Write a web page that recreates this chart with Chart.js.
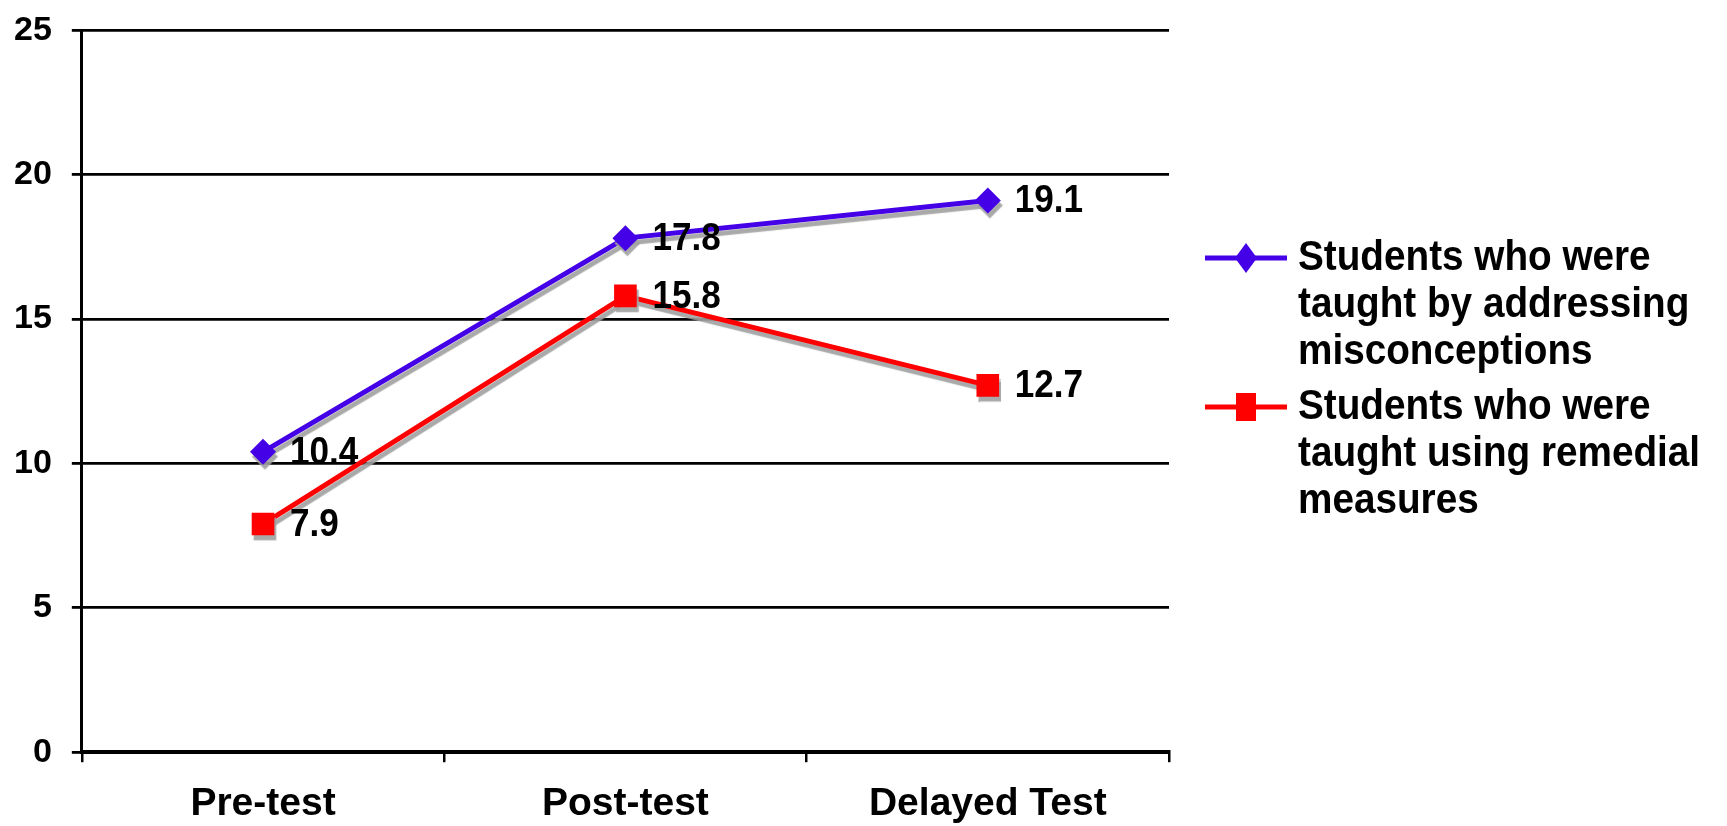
<!DOCTYPE html>
<html>
<head>
<meta charset="utf-8">
<script src="https://cdn.jsdelivr.net/npm/chart.js@4"></script>
<style>
  html, body { margin: 0; padding: 0; background: #fff; }
  #wrap { position: relative; width: 1727px; height: 826px; }
</style>
</head>
<body>
<div id="wrap"><canvas id="chart"></canvas></div>
<script>
// данные графика
const categories = ['Pre-test', 'Post-test', 'Delayed Test'];
const misconceptionScores = [10.4, 17.8, 19.1];
const remedialScores = [7.9, 15.8, 12.7];
const seriesNames = [
    ['Students who were', 'taught by addressing', 'misconceptions'],
    ['Students who were', 'taught using remedial', 'measures']
];
const yTicks = [0, 5, 10, 15, 20, 25];

const FONT = '"Liberation Sans", Arial, sans-serif';
const BLUE = '#4400E6';
const RED = '#FF0000';

// узкий жирный текст (в оригинале шрифт чуть сжат по ширине)
function narrowText(ctx, text, x, y, size) {
    const k = 0.9;
    ctx.save();
    ctx.font = 'bold ' + size + 'px ' + FONT;
    ctx.textAlign = 'left';
    ctx.textBaseline = 'middle';
    ctx.translate(x, y);
    ctx.scale(k, 1);
    ctx.fillText(text, 0, 0);
    ctx.restore();
}

// тень под линиями, как в оригинале
const shadowPlugin = {
    id: 'lineShadow',
    beforeDatasetsDraw(chart) {
        const ctx = chart.ctx;
        ctx.save();
        ctx.shadowColor = 'rgba(160,160,160,0.9)';
        ctx.shadowOffsetX = 2;
        ctx.shadowOffsetY = 5;
        ctx.shadowBlur = 1;
    },
    afterDatasetsDraw(chart) {
        chart.ctx.restore();
    }
};

// подписи значений справа от точек
const valueLabels = {
    id: 'valueLabels',
    afterDatasetsDraw(chart) {
        const ctx = chart.ctx;
        ctx.fillStyle = '#000';
        chart.data.datasets.forEach((ds, i) => {
            chart.getDatasetMeta(i).data.forEach((pt, j) => {
                narrowText(ctx, ds.data[j].toFixed(1), pt.x + 27, pt.y + 1, 39);
            });
        });
    }
};

// легенда справа с переносом строк
const sideLegend = {
    id: 'sideLegend',
    afterDraw(chart) {
        const ctx = chart.ctx;
        const x0 = 1205, x1 = 1287, tx = 1298;
        const starts = [258, 407];
        const lineH = 47;
        ctx.save();
        chart.data.datasets.forEach((ds, i) => {
            const y = starts[i];
            ctx.strokeStyle = ds.borderColor;
            ctx.lineWidth = 5;
            ctx.beginPath();
            ctx.moveTo(x0, y);
            ctx.lineTo(x1, y);
            ctx.stroke();
            ctx.fillStyle = ds.borderColor;
            const cx = (x0 + x1) / 2;
            ctx.beginPath();
            if (ds.pointStyle === 'rectRot') {
                ctx.moveTo(cx, y - 15);
                ctx.lineTo(cx + 11, y);
                ctx.lineTo(cx, y + 15);
                ctx.lineTo(cx - 11, y);
                ctx.closePath();
            } else {
                ctx.rect(cx - 10, y - 14, 20, 28);
            }
            ctx.fill();

            ctx.fillStyle = '#000';
            seriesNames[i].forEach((line, k) => {
                narrowText(ctx, line, tx, y + k * lineH, 43);
            });
        });
        ctx.restore();
    }
};

new Chart(document.getElementById('chart'), {
    type: 'line',
    data: {
        labels: categories,
        datasets: [
            {
                label: seriesNames[0].join(' '),
                data: misconceptionScores,
                borderColor: BLUE,
                backgroundColor: BLUE,
                borderWidth: 5,
                pointStyle: 'rectRot',
                pointRadius: 13,
                pointHoverRadius: 13,
                pointBorderWidth: 0,
                tension: 0
            },
            {
                label: seriesNames[1].join(' '),
                data: remedialScores,
                borderColor: RED,
                backgroundColor: RED,
                borderWidth: 5,
                pointStyle: 'rect',
                pointRadius: 16,
                pointHoverRadius: 16,
                pointBorderWidth: 0,
                tension: 0
            }
        ]
    },
    options: {
        responsive: true,
        maintainAspectRatio: false,
        animation: false,
        layout: {
            padding: { left: -6, right: 558, top: 0, bottom: -21 }
        },
        plugins: {
            legend: { display: false },
            tooltip: { enabled: false }
        },
        scales: {
            x: {
                offset: true,
                grid: {
                    offset: true,
                    drawOnChartArea: false,
                    drawTicks: true,
                    tickLength: 10,
                    color: '#000',
                    lineWidth: 2.5
                },
                border: { display: true, color: '#000', width: 4 },
                ticks: {
                    color: '#000',
                    padding: 19,
                    font: { family: FONT, size: 39, weight: 'bold' }
                }
            },
            y: {
                min: yTicks[0],
                max: yTicks[yTicks.length - 1],
                afterBuildTicks(axis) {
                    axis.ticks = yTicks.map(v => ({ value: v }));
                },
                grid: {
                    color: '#000',
                    lineWidth: 2.8,
                    tickLength: 10
                },
                border: { display: true, color: '#000', width: 3 },
                ticks: {
                    color: '#000',
                    padding: 20,
                    font: { family: FONT, size: 34, weight: 'bold', lineHeight: 0.6 }
                }
            }
        }
    },
    plugins: [shadowPlugin, valueLabels, sideLegend]
});
</script>
</body>
</html>
